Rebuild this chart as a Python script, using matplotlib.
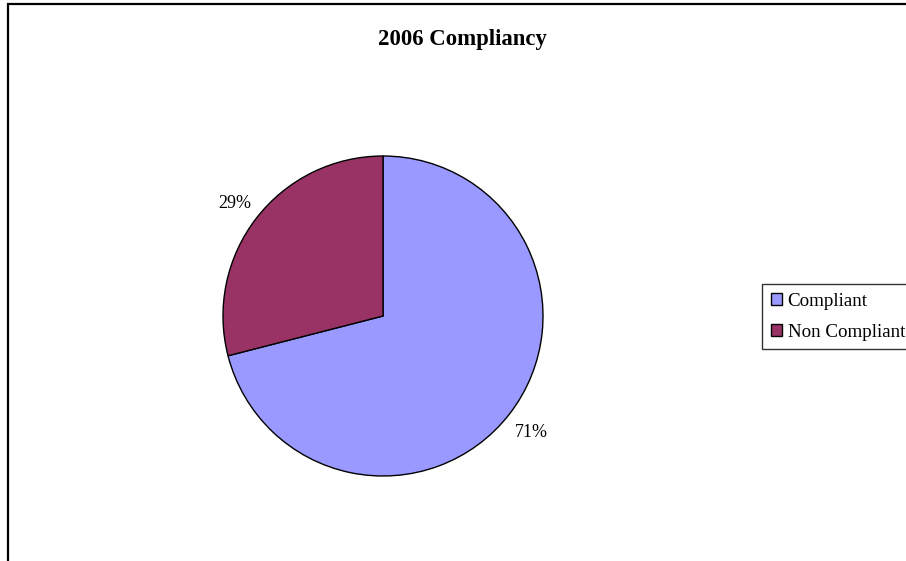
import matplotlib.pyplot as plt
from matplotlib.patches import Patch, Rectangle

labels = ['Compliant', 'Non Compliant']
values = [71, 29]
colors = ['#9999FF', '#993366']

plt.rcParams['font.family'] = ['Liberation Serif', 'DejaVu Serif']

W, H = 906, 561
fig = plt.figure(figsize=(W / 100, H / 100), dpi=100)

# outer chart frame (cut off at right and bottom like the original)
fig.patches.append(Rectangle((8 / W, -0.2), 1.2, (H - 4) / H + 0.2,
                             transform=fig.transFigure, fill=False,
                             edgecolor='black', linewidth=1.6))

ax = fig.add_axes([223 / W, (H - 476) / H, 320 / W, 320 / H])
wedges, texts = ax.pie(values, colors=colors, startangle=90, counterclock=False,
                       labels=['%d%%' % v for v in values], labeldistance=1.17,
                       wedgeprops=dict(edgecolor='black', linewidth=1.0),
                       textprops=dict(fontsize=13))
for t in texts:
    t.set_horizontalalignment('center')
    t.set_verticalalignment('center_baseline')
ax.set_xlim(-1, 1)
ax.set_ylim(-1, 1)
ax.set_aspect('equal')
for w in wedges:
    w.set_clip_on(False)

fig.text(462 / W, 1 - 40 / H, '2006 Compliancy', ha='center', va='center',
         fontsize=16.4, fontweight='bold')

handles = [Patch(facecolor=c, edgecolor='black', linewidth=1.0) for c in colors]
leg = fig.legend(handles, labels, loc='upper left',
                 bbox_to_anchor=(762 / W, 1 - 284 / H), fontsize=13.7,
                 frameon=True, fancybox=False, edgecolor='black',
                 handlelength=0.6, handleheight=0.6, handletextpad=0.3,
                 borderpad=0.45, labelspacing=0.75, borderaxespad=0)
leg.get_frame().set_linewidth(1.0)

fig.savefig('out.png', dpi=100)
